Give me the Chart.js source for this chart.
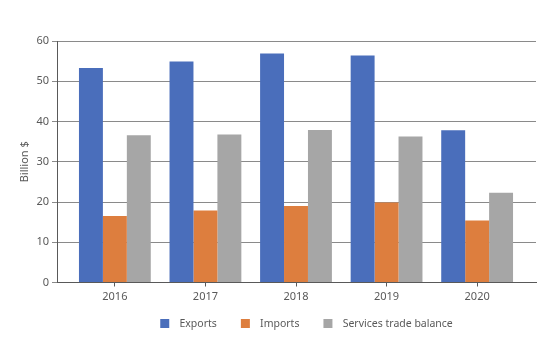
<!DOCTYPE html>
<html>
<head>
<meta charset="utf-8">
<script src="https://cdn.jsdelivr.net/npm/chart.js@4"></script>
<style>
  html, body { margin: 0; padding: 0; background: #fff; }
  #wrap { width: 555px; height: 360px; }
</style>
</head>
<body>
<div id="wrap"><canvas id="mycanvas" width="555" height="360"></canvas></div>
<script>
var years = ["2016", "2017", "2018", "2019", "2020"];
var exportsVals = [53.3, 54.9, 56.9, 56.4, 37.8];
var importsVals = [16.5, 17.9, 19.0, 19.9, 15.4];
var balanceVals = [36.6, 36.8, 37.9, 36.3, 22.3];
var yTicks = [0, 10, 20, 30, 40, 50, 60];

function points(vals) {
	var out = [];
	for (var i in vals) {
		out.push({ x: Number(i), y: vals[i] });
	}
	return out;
}

// legend swatch: blank space on the left (gap to previous item), then the square,
// then a bit of blank space before the text
function swatch(color) {
	var c = document.createElement("canvas");
	c.width = 34;
	c.height = 9;
	var g = c.getContext("2d");
	g.fillStyle = color;
	g.fillRect(20, 0, 9, 9);
	return c;
}

var textColor = "#595959";
var axisColor = "#595959";
var gridColor = "#8a8a8a";
var font = { family: "'Noto Sans', sans-serif", size: 11 };
var legendFont = { family: "'Noto Sans', sans-serif", size: 10.5 };

var chartdata = {
	datasets: [
		{
			label: "Exports",
			backgroundColor: "#4A6EBB",
			data: points(exportsVals)
		},
		{
			label: "Imports",
			backgroundColor: "#DD7E3E",
			data: points(importsVals)
		},
		{
			label: "Services trade balance",
			backgroundColor: "#A6A6A6",
			data: points(balanceVals)
		}
	]
};

var ctx = document.getElementById("mycanvas");

var BarGraph = new Chart(ctx, {
	type: 'bar',
	data: chartdata,
	options: {
		responsive: false,
		animation: false,
		barPercentage: 1,
		categoryPercentage: 0.793,
		layout: { padding: { left: 0, right: 19, top: 41, bottom: 21 } },
		plugins: {
			tooltip: { enabled: false },
			legend: {
				position: 'bottom',
				fullSize: false,
				labels: {
					usePointStyle: true,
					pointStyleWidth: 34,
					boxHeight: 9,
					padding: 4,
					color: textColor,
					font: legendFont,
					generateLabels: function(chart) {
						var items = Chart.defaults.plugins.legend.labels.generateLabels(chart);
						items.forEach(function(it) {
							it.pointStyle = swatch(it.fillStyle);
							it.lineWidth = 0;
						});
						return items;
					}
				}
			}
		},
		scales: {
			x: {
				type: 'linear',
				offset: false,
				min: -0.639,
				max: 4.65,
				afterBuildTicks: function(scale) {
					scale.ticks = scale.ticks.filter(function(t) { return Number.isInteger(t.value); });
				},
				afterFit: function(scale) { scale.height = 32; },
				border: { display: true, color: axisColor, width: 1 },
				grid: { display: true, offset: false, drawOnChartArea: false, tickLength: 4, color: axisColor },
				ticks: {
					stepSize: 1,
					autoSkip: false,
					maxRotation: 0,
					color: textColor,
					font: font,
					padding: 4,
					callback: function(v) { return years[v]; }
				}
			},
			y: {
				min: 0,
				max: 60,
				afterBuildTicks: function(scale) {
					scale.ticks = yTicks.map(function(v) { return { value: v }; });
				},
				afterFit: function(scale) { scale.width = 57; },
				border: { display: true, color: axisColor, width: 1 },
				grid: { color: gridColor, lineWidth: 1, tickLength: 5 },
				ticks: { color: textColor, font: font, padding: 3 },
				title: {
					display: true,
					text: "Billion $",
					color: textColor,
					font: font,
					padding: { top: 18, bottom: 0 }
				}
			}
		}
	}
});
</script>
</body>
</html>
